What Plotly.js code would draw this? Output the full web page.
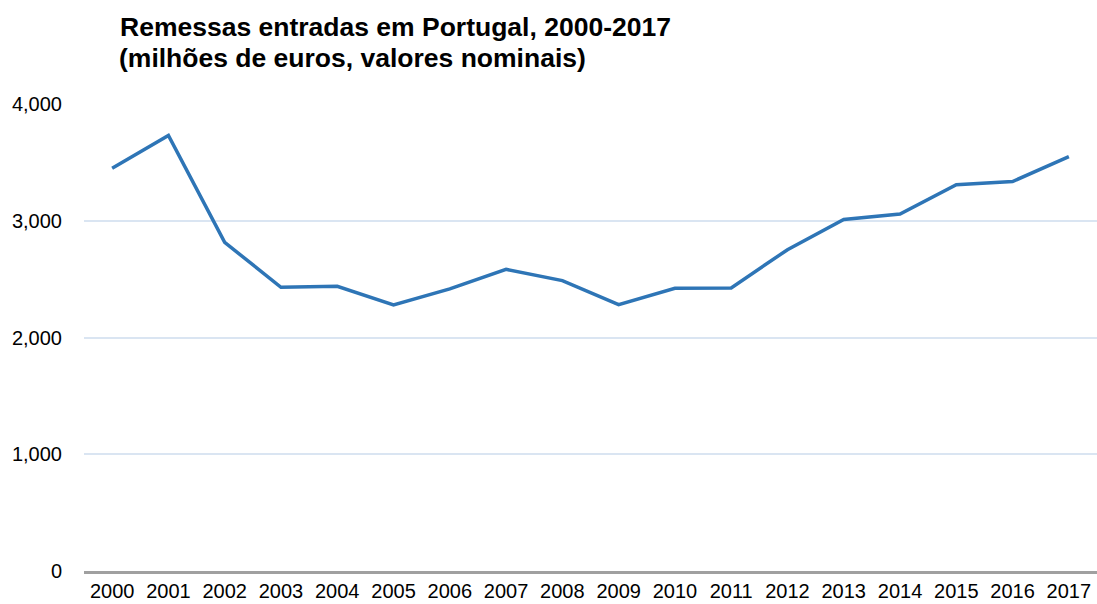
<!DOCTYPE html>
<html>
<head>
<meta charset="utf-8">
<script src="https://cdn.plot.ly/plotly-3.0.1.min.js"></script>
<style>html,body{margin:0;padding:0;background:#fff;}#chart{width:1097px;height:604px;}</style>
</head>
<body>
<div id="chart"></div>
<script>
const years = ["2000","2001","2002","2003","2004","2005","2006","2007","2008","2009","2010","2011","2012","2013","2014","2015","2016","2017"];
const remessas = [3450, 3730, 2815, 2430, 2438, 2279, 2416, 2584, 2487, 2282, 2421, 2425, 2752, 3011, 3057, 3308, 3336, 3550];
const titleLine1 = "Remessas entradas em Portugal, 2000-2017";
const titleLine2 = "(milhões de euros, valores nominais)";
const yTicks = [0, 1000, 2000, 3000, 4000];
const yTickLabels = ["0", "1,000", "2,000", "3,000", "4,000"];

const trace = {
  x: years,
  y: remessas,
  type: 'scatter',
  mode: 'lines',
  line: {color: '#2e75b6', width: 3.5},
  hoverinfo: 'x+y'
};

const FONT = 'Liberation Sans, Arial, sans-serif';

const layout = {
  width: 1097,
  height: 604,
  margin: {l: 84, r: 0, t: 104, b: 33},
  paper_bgcolor: '#ffffff',
  plot_bgcolor: '#ffffff',
  font: {family: FONT, color: '#000000', size: 20},
  showlegend: false,
  title: {
    text: '<b>' + titleLine1 + '</b>',
    font: {family: FONT, size: 26.5, color: '#000000'},
    xref: 'container', x: 120/1097, xanchor: 'left',
    yref: 'container', y: 1 - 27/604, yanchor: 'middle'
  },
  annotations: [{
    text: '<b>' + titleLine2 + '</b>',
    font: {family: FONT, size: 26.5, color: '#000000'},
    xref: 'paper', x: (117 - 84) / 1013, xanchor: 'left',
    yref: 'paper', y: (571 - 58) / 467, yanchor: 'middle',
    showarrow: false, align: 'left'
  }],
  xaxis: {
    type: 'category',
    range: [-0.5, 17.5],
    showgrid: false,
    showline: true,
    linecolor: '#a0a0a0',
    linewidth: 2.5,
    ticks: '',
    tickfont: {size: 20, color: '#000000'},
    zeroline: false,
    fixedrange: true
  },
  yaxis: {
    range: [0, 4000],
    tickvals: yTicks,
    ticktext: yTickLabels,
    showgrid: true,
    gridcolor: '#dae5f2',
    gridwidth: 2,
    showline: false,
    zeroline: false,
    ticks: 'outside',
    ticklen: 17,
    tickcolor: 'rgba(0,0,0,0)',
    tickfont: {size: 20, color: '#000000'},
    fixedrange: true
  }
};

Plotly.newPlot('chart', [trace], layout, {displayModeBar: false, staticPlot: true});
</script>
</body>
</html>
